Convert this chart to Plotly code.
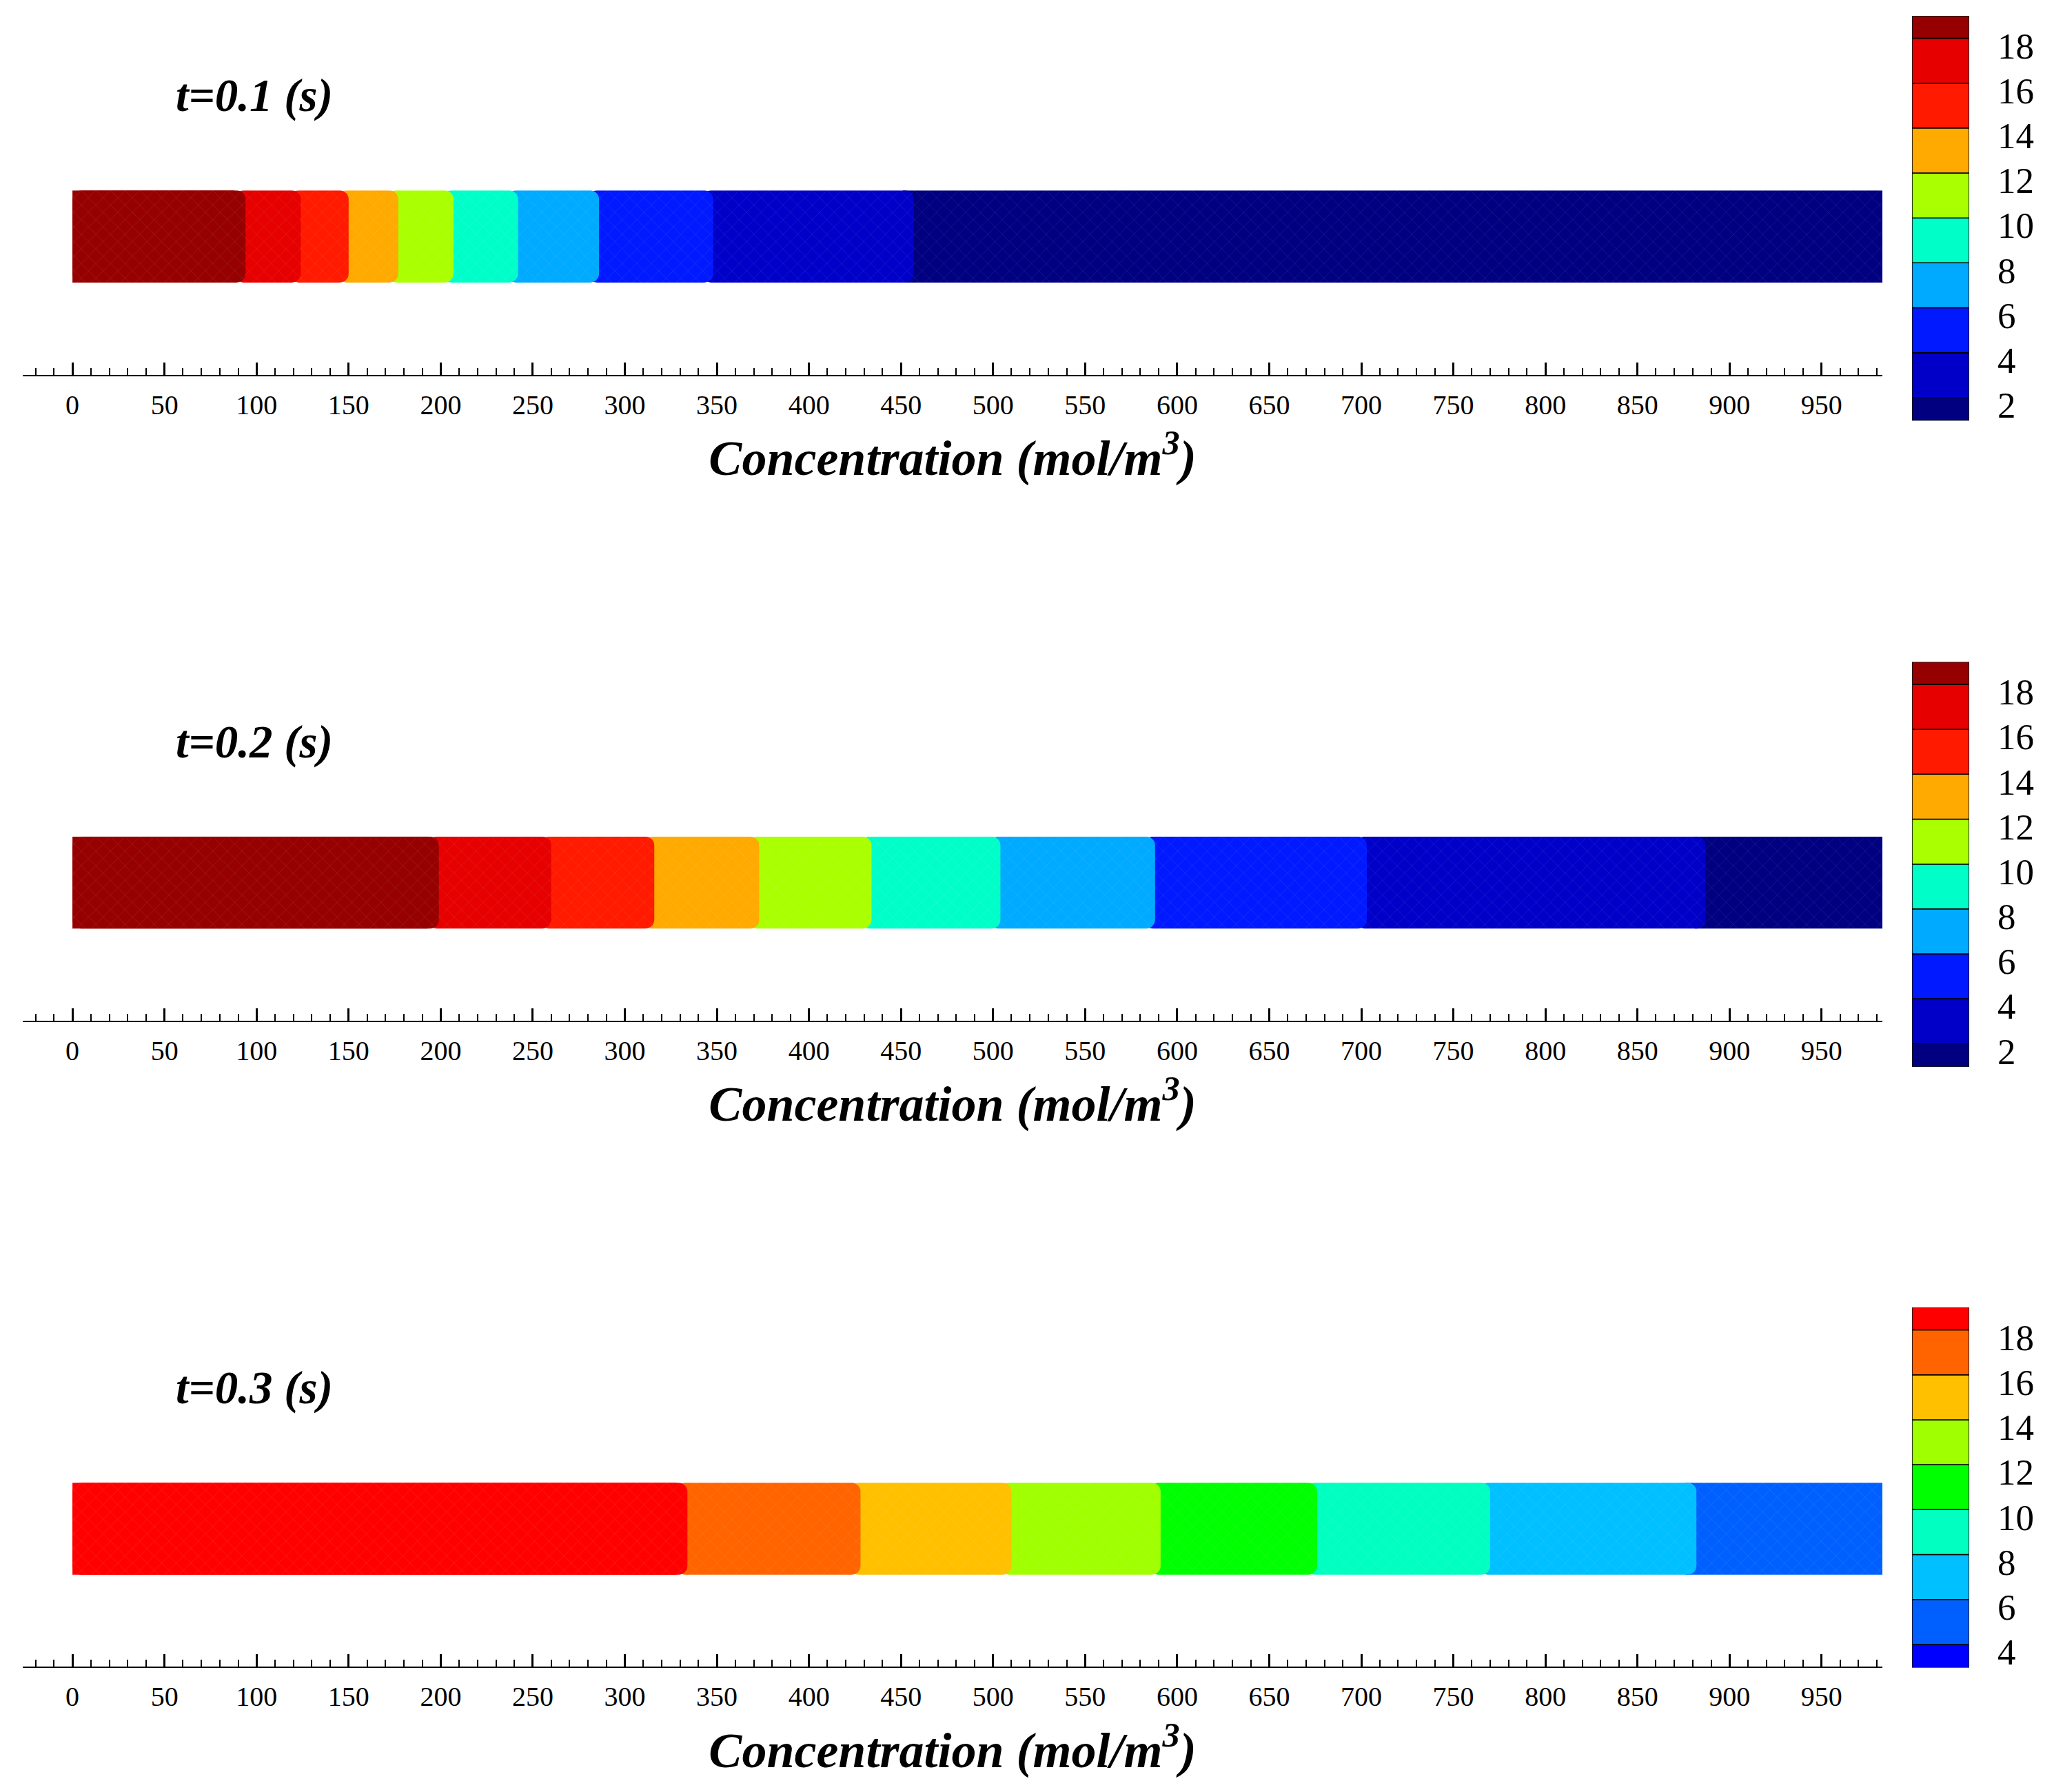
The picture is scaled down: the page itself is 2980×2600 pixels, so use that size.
import plotly.graph_objects as go

# ---------------- data ----------------
panel_titles = ["t=0.1 (s)", "t=0.2 (s)", "t=0.3 (s)"]
axis_title = "Concentration (mol/m<sup>3</sup>)"

# right edge (x units) of every colour band, left -> right
p1_ends = [94, 124, 150, 177, 207, 242, 286, 348, 457, 983]
p2_ends = [199, 260, 316, 373, 434, 504, 588, 703, 887, 983]
p3_ends = [334, 428, 510, 591, 676, 770, 882, 983]

# band colours, left -> right
jet10 = ["#960000", "#E60000", "#FF1A00", "#FFAA00", "#AAFF00",
         "#00FFC8", "#00AAFF", "#0019FF", "#0000C8", "#000080"]
p1_colors = jet10
p2_colors = jet10
p3_colors = ["#FF0000", "#FF6400", "#FFC000", "#A0FF00", "#00FF00",
             "#00FFC0", "#00C0FF", "#0060FF"]

# legend (colour bar) segment edges, bottom -> top, and colours bottom -> top
cb12_edges = [1.3, 2.33, 4.33, 6.33, 8.33, 10.33, 12.33, 14.33, 16.33, 18.33, 19.33]
cb12_colors = list(reversed(jet10))
cb3_edges = [3.3, 4.33, 6.33, 8.33, 10.33, 12.33, 14.33, 16.33, 18.33, 19.33]
cb3_colors = ["#0000FF", "#0060FF", "#00C0FF", "#00FFC0", "#00FF00",
              "#A0FF00", "#FFC000", "#FF6400", "#FF0000"]
cb12_ticks = [2, 4, 6, 8, 10, 12, 14, 16, 18]
cb3_ticks = [4, 6, 8, 10, 12, 14, 16, 18]

x_range = [-27, 983]

panels = [
    (p1_ends, p1_colors, cb12_edges, cb12_colors, cb12_ticks),
    (p2_ends, p2_colors, cb12_edges, cb12_colors, cb12_ticks),
    (p3_ends, p3_colors, cb3_edges, cb3_colors, cb3_ticks),
]

# ---------------- layout geometry (screen pixels) ----------------
PAGE_OFF = 8                      # default body margin of the html page
W, H = 2980 - PAGE_OFF, 2600 - PAGE_OFF
PANEL_DY = 940
STRIP_X = (33, 2731)
STRIP_TOP, AXIS_Y = 277, 545
CB_X = (2774, 2857)
cb_pix = [(23, 612), (963, 1552), (1902, 2426)]
BAND_OVERLAP = 6                  # x units each band slips under its left neighbour
RADIUS = 13

SERIF = "Liberation Serif"
MESH = dict(shape="x", fillmode="overlay", fgcolor="white",
            fgopacity=0.17, size=15, solidity=0.06)


def fx(px):
    return (px - PAGE_OFF) / W


def fy(py):
    return 1 - (py - PAGE_OFF) / H


def band(start, end, color, radius, xa, ya):
    return go.Bar(
        x=[end - start], y=[0], base=[start], orientation="h", width=1.0,
        marker=dict(color=color, line=dict(width=0), cornerradius=radius,
                    pattern=MESH),
        xaxis=xa, yaxis=ya, hoverinfo="skip",
    )


fig = go.Figure()
layout = dict(
    width=W, height=H, autosize=False,
    margin=dict(l=0, r=0, t=0, b=0),
    paper_bgcolor="white", plot_bgcolor="white",
    showlegend=False, barmode="overlay",
)
annotations = []

for k, (ends, colors, cb_edges, cb_colors, cb_ticks) in enumerate(panels):
    dy = PANEL_DY * k
    xa_s, ya_s = f"x{2*k+1}", f"y{2*k+1}"
    xa_c, ya_c = f"x{2*k+2}", f"y{2*k+2}"

    # strip: bands drawn right-most first so that each band's rounded
    # right end lies on top of its right neighbour
    n = len(ends)
    for i in reversed(range(n)):
        start = 0 if i == 0 else ends[i - 1] - BAND_OVERLAP
        fig.add_trace(band(start, ends[i], colors[i],
                           0 if i == n - 1 else RADIUS, xa_s, ya_s))
    # square-cornered left end of the strip
    fig.add_trace(band(0, ends[0] - BAND_OVERLAP, colors[0], 0, xa_s, ya_s))

    # colour legend
    heights = [cb_edges[j + 1] - cb_edges[j] for j in range(len(cb_colors))]
    fig.add_trace(go.Bar(
        x=[0] * len(cb_colors), y=heights, base=cb_edges[:-1], width=1.0,
        marker=dict(color=cb_colors, line=dict(color="black", width=1.5)),
        xaxis=xa_c, yaxis=ya_c, hoverinfo="skip",
    ))

    sfx_s = "" if k == 0 else str(2 * k + 1)
    sfx_c = str(2 * k + 2)

    layout[f"xaxis{sfx_s}"] = dict(
        domain=[fx(STRIP_X[0]), fx(STRIP_X[1])], anchor=ya_s,
        range=x_range, showgrid=False, zeroline=False,
        showline=True, linecolor="black", linewidth=2,
        ticks="inside", ticklen=18, tickwidth=3, tickcolor="black",
        tick0=0, dtick=50, ticklabelstandoff=7,
        minor=dict(dtick=10, tick0=0, ticks="inside", ticklen=10,
                   tickwidth=1.5, tickcolor="black", showgrid=False),
        tickfont=dict(family=SERIF, size=40, color="black"),
        title=dict(text="<b><i>" + axis_title + "</i></b>", standoff=30,
                   font=dict(family=SERIF, size=72, color="black")),
    )
    layout[f"yaxis{sfx_s}"] = dict(
        domain=[fy(AXIS_Y + dy), fy(STRIP_TOP + dy)], anchor=xa_s,
        range=[-1.5, 0.5], visible=False,
    )
    layout[f"xaxis{sfx_c}"] = dict(
        domain=[fx(CB_X[0]), fx(CB_X[1])], anchor=ya_c,
        range=[-0.5, 0.5], visible=False,
    )
    layout[f"yaxis{sfx_c}"] = dict(
        domain=[fy(cb_pix[k][1]), fy(cb_pix[k][0])], anchor=xa_c,
        range=[cb_edges[0], cb_edges[-1]], side="right",
        showgrid=False, zeroline=False, showline=False,
        tickvals=cb_ticks, ticks="", ticklabelstandoff=40,
        tickfont=dict(family=SERIF, size=53, color="black"),
    )

    annotations.append(dict(
        text="<b><i>" + panel_titles[k] + "</i></b>",
        xref="paper", yref="paper", x=fx(253), y=fy(139 + dy),
        xanchor="left", yanchor="middle", showarrow=False,
        font=dict(family=SERIF, size=67, color="black"),
    ))

layout["annotations"] = annotations
fig.update_layout(**layout)
fig.write_html("out.html")
